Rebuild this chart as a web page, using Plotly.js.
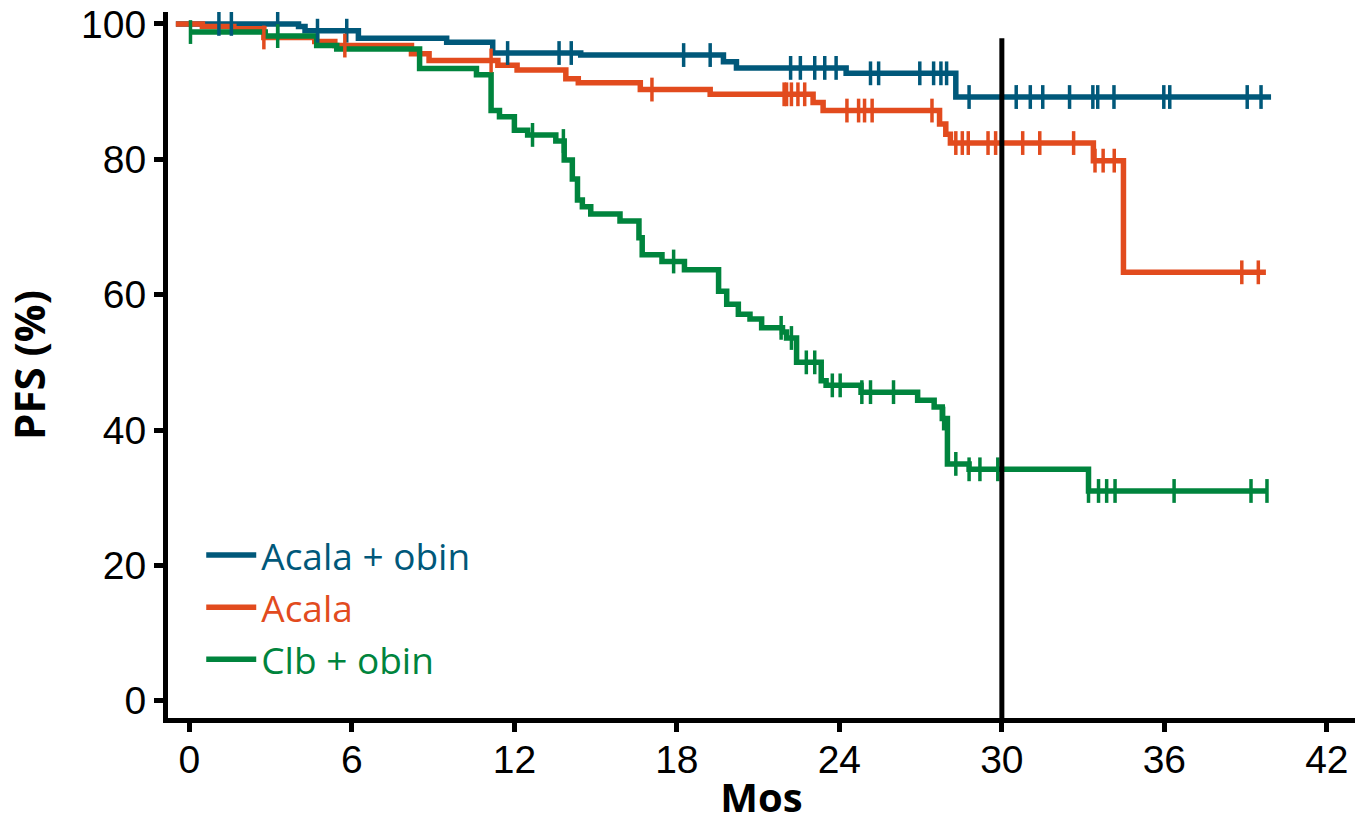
<!DOCTYPE html>
<html>
<head>
<meta charset="utf-8">
<script src="https://cdn.plot.ly/plotly-3.0.1.min.js"></script>
<style>
  html, body { margin: 0; padding: 0; background: #fff; }
  #chart { width: 1360px; height: 824px; }
</style>
</head>
<body>
<div id="chart"></div>
<script>
// ---- Data ----
const seriesNames = ["Acala + obin", "Acala", "Clb + obin"];
const seriesColors = ["#00587A", "#E24B1E", "#00843D"];

// Step times (months) and PFS (%) for each arm
const blueTimes = [-0.5, 4.03, 4.27, 6.24, 9.5, 11.2, 14.45, 19.72, 20.2, 24.25, 28.3, 39.94];
const bluePFS   = [100, 99.6, 99.0, 97.9, 97.3, 95.7, 95.4, 94.4, 93.5, 92.7, 89.2, 89.2];
const blueCens  = [1.09, 1.55, 3.26, 4.73, 5.81, 11.75, 13.65, 14.1, 18.25, 19.23, 22.2, 22.56, 23.09,
                   23.46, 23.88, 25.15, 25.45, 26.97, 27.48, 27.75, 27.96, 28.79, 30.53, 31.05, 31.51,
                   32.5, 33.36, 33.54, 34.14, 35.98, 36.2, 39.06, 39.57];

const orangeTimes = [-0.5, 0.48, 1.64, 2.75, 4.63, 5.37, 8.2, 8.85, 11.39, 12.1, 13.9, 14.36, 16.65,
                     19.23, 23.03, 23.4, 27.7, 27.93, 28.1, 33.38, 34.49, 39.75];
const orangePFS   = [100, 99.6, 99.3, 98.0, 97.4, 96.8, 95.6, 94.6, 93.9, 93.2, 91.9, 91.3, 90.3,
                     89.6, 88.4, 87.2, 85.2, 83.7, 82.4, 79.8, 63.3, 63.3];
const orangeCens  = [2.75, 5.74, 11.14, 17.08, 21.96, 22.05, 22.23, 22.47, 22.72, 24.28, 24.71, 24.93,
                     25.21, 27.42, 28.3, 28.54, 28.76, 29.49, 29.77, 30.77, 31.4, 32.65, 33.44, 33.74,
                     34.15, 38.86, 39.47];

const greenTimes = [0.04, 2.8, 4.7, 5.44, 8.5, 10.6, 11.14, 11.45, 12.0, 12.49, 13.53, 13.84, 14.14,
                    14.33, 14.51, 14.82, 15.9, 16.6, 16.72, 17.45, 18.28, 19.54, 19.84, 20.27, 20.7,
                    21.13, 21.9, 22.05, 22.42, 23.33, 23.51, 24.8, 26.89, 27.5, 27.8, 27.99, 28.79,
                    33.2, 39.8];
const greenPFS   = [98.8, 98.2, 96.8, 96.3, 93.4, 92.5, 87.2, 86.3, 84.3, 83.6, 82.7, 79.9, 77.1,
                    74.0, 73.0, 71.9, 70.9, 68.4, 65.9, 64.9, 63.7, 60.5, 58.6, 57.1, 56.4,
                    55.1, 54.5, 53.6, 50.0, 47.3, 46.6, 45.6, 44.4, 43.4, 41.7, 35.0, 34.2,
                    31.0, 31.0];
const greenCens  = [0.04, 3.26, 12.67, 13.81, 17.88, 21.85, 22.23, 22.78, 23.09, 23.74, 24.03, 24.83,
                    25.15, 26.0, 27.85, 28.3, 28.79, 29.19, 29.85, 33.2, 33.57, 33.87, 34.18, 36.36,
                    39.2, 39.79];

const xTicks = [0, 6, 12, 18, 24, 30, 36, 42];
const yTicks = [0, 20, 40, 60, 80, 100];
const landmarkMonth = 30;
const landmarkTop = 97.9;

// value of a step curve at time t (last step at or before t)
function stepValue(times, vals, t) {
  let v = vals[0];
  for (let i = 0; i < times.length; i++) {
    if (times[i] <= t + 1e-9) v = vals[i]; else break;
  }
  return v;
}

const arms = [
  [blueTimes, bluePFS, blueCens],
  [orangeTimes, orangePFS, orangeCens],
  [greenTimes, greenPFS, greenCens]
];

const traces = [];
arms.forEach((arm, i) => {
  const [t, v, c] = arm;
  traces.push({
    type: "scatter", mode: "lines",
    x: t, y: v,
    line: { shape: "hv", color: seriesColors[i], width: 5.5 },
    name: '<span style="color:' + seriesColors[i] + '">' + seriesNames[i] + '</span>',
    legendgroup: "g" + i,
    hoverinfo: "skip"
  });
});
arms.forEach((arm, i) => {
  const [t, v, c] = arm;
  traces.push({
    type: "scatter", mode: "markers",
    x: c, y: c.map(tt => stepValue(t, v, tt)),
    marker: { symbol: "line-ns", size: 17, line: { color: seriesColors[i], width: 3.5 } },
    showlegend: false,
    legendgroup: "g" + i,
    hoverinfo: "skip"
  });
});

const FONT = '"Open Sans", "Noto Sans", "Liberation Sans", sans-serif';
const TICKFONT = '"Liberation Sans", Arial, sans-serif';

const layout = {
  width: 1360, height: 824,
  margin: { l: 168, r: 5, t: 12, b: 106 },
  paper_bgcolor: "#fff", plot_bgcolor: "#fff",
  font: { family: FONT, color: "#000" },
  showlegend: true,
  legend: {
    x: 0.028, y: 0.274, xanchor: "left", yanchor: "top",
    bgcolor: "rgba(0,0,0,0)", borderwidth: 0,
    font: { size: 37, family: FONT },
    tracegroupgap: 1,
    itemwidth: 50
  },
  xaxis: {
    range: [-0.79, 43.04],
    tickvals: xTicks, ticktext: xTicks.map(String),
    showline: true, linecolor: "#000", linewidth: 5,
    ticks: "outside", ticklen: 9, tickwidth: 5, tickcolor: "#000",
    ticklabelstandoff: -6,
    showgrid: false, zeroline: false,
    tickfont: { size: 39, color: "#000", family: TICKFONT },
    title: { text: "<b>Mos</b>", font: { size: 40, color: "#000", family: FONT }, standoff: 8 }
  },
  yaxis: {
    range: [-2.54, 101.76],
    tickvals: yTicks, ticktext: yTicks.map(String),
    showline: true, linecolor: "#000", linewidth: 5,
    ticks: "outside", ticklen: 9, tickwidth: 5, tickcolor: "#000",
    ticklabelstandoff: 0,
    ticklabeloverflow: "allow",
    showgrid: false, zeroline: false,
    tickfont: { size: 39, color: "#000", family: TICKFONT },
    title: { text: "<b>PFS (%)</b>", font: { size: 42, color: "#000", family: FONT }, standoff: 26 }
  },
  shapes: [{
    type: "line", xref: "x", yref: "y",
    x0: landmarkMonth, x1: landmarkMonth, y0: -2.54, y1: landmarkTop,
    line: { color: "#000", width: 5 }
  }]
};

Plotly.newPlot("chart", traces, layout, { displayModeBar: false, staticPlot: true });
</script>
</body>
</html>
